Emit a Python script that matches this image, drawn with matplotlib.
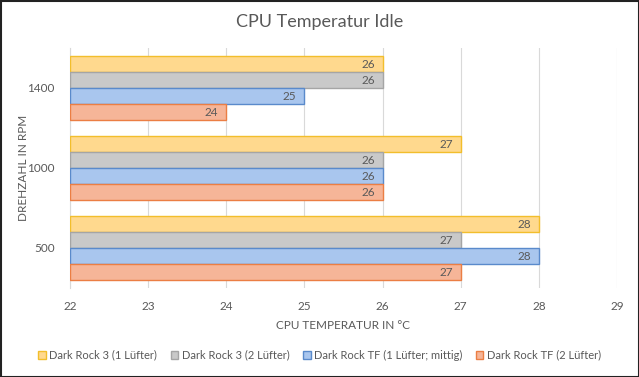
import matplotlib
matplotlib.use("Agg")
import matplotlib.pyplot as plt
import numpy as np
from matplotlib.patches import Rectangle

plt.rcParams['font.family'] = ['Lato', 'DejaVu Sans']

categories = ["500", "1000", "1400"]
series_names = ["Dark Rock 3 (1 Lüfter)", "Dark Rock 3 (2 Lüfter)",
                "Dark Rock TF (1 Lüfter; mittig)", "Dark Rock TF (2 Lüfter)"]
dr3_1 = [28, 27, 26]
dr3_2 = [27, 26, 26]
drtf_1 = [28, 26, 25]
drtf_2 = [27, 26, 24]
series_values = [dr3_1, dr3_2, drtf_1, drtf_2]
x_ticks = [22, 23, 24, 25, 26, 27, 28, 29]

fills = ["#FFD98E", "#C9C9C9", "#A9C6EE", "#F6B598"]
edges = ["#F2BE2C", "#A5A5A5", "#5A8ACB", "#EB7E44"]
text_col = "#595959"

fig = plt.figure(figsize=(6.39, 3.77), dpi=100)
ax = fig.add_axes([70/639, 1-288/377, (617-70)/639, (288-48)/377])

y = np.arange(len(categories))
h = 0.2
offsets = [1.5*h, 0.5*h, -0.5*h, -1.5*h]
for vals, off, fc, ec, name in zip(series_values, offsets, fills, edges, series_names):
    ax.barh(y + off, np.array(vals) - 22, left=22, height=h, color=fc,
            edgecolor=ec, linewidth=1.0, label=name, zorder=3)
    for yi, v in zip(y, vals):
        ax.text(v - 0.1, yi + off, str(v), ha='right', va='center',
                fontsize=8.5, color=text_col, zorder=4)

ax.set_xlim(22, 29)
ax.set_ylim(-0.5, 2.5)
ax.set_xticks(x_ticks)
ax.set_xticklabels([str(t) for t in x_ticks])
ax.set_yticks(y)
ax.set_yticklabels(categories)
ax.tick_params(axis='both', length=0, labelsize=8.5, colors=text_col)
ax.tick_params(axis='x', pad=9)
ax.tick_params(axis='y', pad=11)
ax.xaxis.grid(True, color="#D9D9D9", linewidth=0.8, zorder=0)
for s in ['top', 'right', 'bottom']:
    ax.spines[s].set_visible(False)
ax.spines['left'].set_color("#D9D9D9")
ax.spines['left'].set_linewidth(0.8)

ax.set_xlabel("CPU TEMPERATUR IN °C", fontsize=8.5, color=text_col, labelpad=6)
ax.set_ylabel("DREHZAHL IN RPM", fontsize=8.5, color=text_col)
ax.yaxis.set_label_coords((29 - 70) / 547, 0.5)

fig.text(0.5, 1-22/377, "CPU Temperatur Idle", ha='center', va='center',
         fontsize=13, color=text_col)

handles, labels = ax.get_legend_handles_labels()
leg = fig.legend(handles, labels, loc='center', bbox_to_anchor=(0.5, 1-355/377),
                 ncol=4, frameon=False, fontsize=8, handlelength=0.7,
                 handleheight=0.7, handletextpad=0.3, columnspacing=1.2)
for t in leg.get_texts():
    t.set_color(text_col)

fig.patches.append(Rectangle((0.5/639, 0.5/377), 1-1/639, 1-1/377, transform=fig.transFigure,
                             fill=False, edgecolor="#222222", linewidth=1.5))

fig.savefig("out.png", dpi=100, facecolor="white")
